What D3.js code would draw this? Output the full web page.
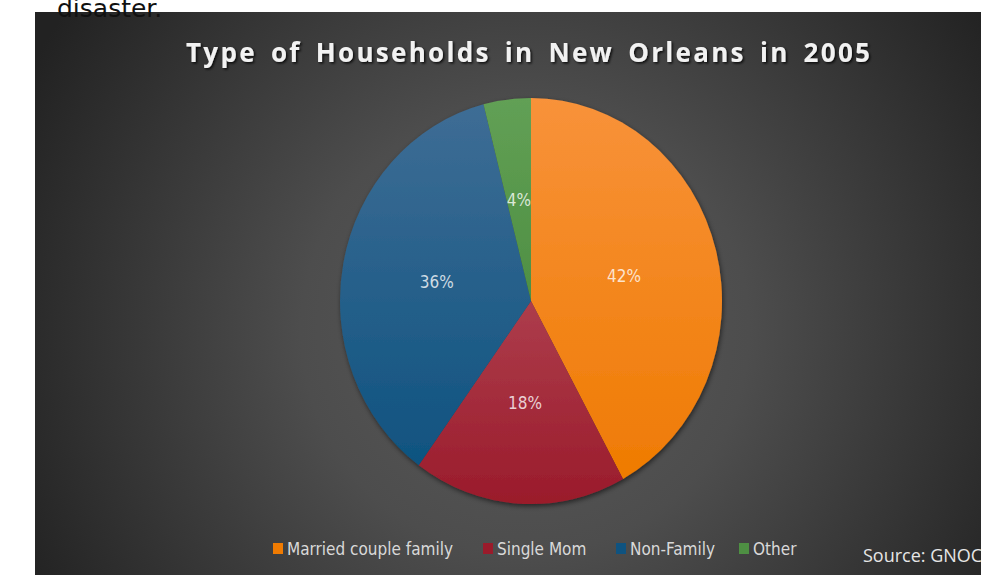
<!DOCTYPE html>
<html>
<head>
<meta charset="utf-8">
<script src="https://cdn.jsdelivr.net/npm/d3@7"></script>
<style>
  html, body { margin: 0; padding: 0; background: #ffffff; overflow: hidden; }
  svg { display: block; }
</style>
</head>
<body>
<svg id="chart" width="981" height="575"></svg>
<script>
// Household types, New Orleans 2005 (share of households, %)
const categories = ["Married couple family", "Single Mom", "Non-Family", "Other"];
const shares = [42, 18, 36, 4];
const labelTexts = ["42%", "18%", "36%", "4%"];
const titleText = "Type of Households in New Orleans in 2005";
const sourceText = "Source: GNOC";
const captionText = "disaster.";

// Slice fills: lighter at the top of each slice, darker towards the bottom
const colorTop = ["#f8923a", "#ad3d4c", "#3e6d95", "#62a055"];
const colorBottom = ["#ef7b02", "#9a1b2b", "#0f5380", "#4e8f43"];

const svg = d3.select("#chart");
const W = 981, H = 575;

const defs = svg.append("defs");

// Panel background: radial light in the middle, dark towards the edges
const bg = defs.append("radialGradient")
  .attr("id", "bgGrad")
  .attr("gradientUnits", "userSpaceOnUse")
  .attr("cx", 525).attr("cy", 330).attr("r", 560);
bg.append("stop").attr("offset", 0).attr("stop-color", "#5a5a5a");
bg.append("stop").attr("offset", 0.4).attr("stop-color", "#4d4d4d");
bg.append("stop").attr("offset", 1).attr("stop-color", "#222222");

categories.forEach((c, i) => {
  const g = defs.append("linearGradient")
    .attr("id", "slice" + i)
    .attr("x1", 0).attr("y1", 0).attr("x2", 0).attr("y2", 1);
  g.append("stop").attr("offset", 0).attr("stop-color", colorTop[i]);
  g.append("stop").attr("offset", 1).attr("stop-color", colorBottom[i]);
});

const shadow = defs.append("filter").attr("id", "titleShadow")
  .attr("x", "-5%").attr("y", "-30%").attr("width", "110%").attr("height", "160%");
shadow.append("feDropShadow")
  .attr("dx", 1.5).attr("dy", 1.5).attr("stdDeviation", 1.2)
  .attr("flood-color", "#000").attr("flood-opacity", 0.8);

const pieShadow = defs.append("filter").attr("id", "pieShadow")
  .attr("x", "-10%").attr("y", "-10%").attr("width", "120%").attr("height", "120%");
pieShadow.append("feDropShadow")
  .attr("dx", 1).attr("dy", 2).attr("stdDeviation", 2.5)
  .attr("flood-color", "#000").attr("flood-opacity", 0.55);

// Dark panel
svg.append("rect")
  .attr("x", 35).attr("y", 12)
  .attr("width", W - 35).attr("height", H - 12)
  .attr("fill", "url(#bgGrad)");

// Trailing caption text from the surrounding page
svg.append("text")
  .attr("x", 57).attr("y", 17)
  .attr("font-family", "DejaVu Sans, sans-serif")
  .attr("font-size", 25)
  .attr("fill", "#111")
  .text(captionText);

// Title
svg.append("text")
  .attr("x", 186).attr("y", 62)
  .attr("font-family", "Open Sans, sans-serif")
  .attr("font-weight", 700)
  .attr("font-size", 26)
  .attr("fill", "#f2f2f2")
  .attr("word-spacing", 5)
  .attr("textLength", 684)
  .attr("lengthAdjust", "spacing")
  .attr("filter", "url(#titleShadow)")
  .text(titleText);

// Pie (slightly taller than wide)
const cx = 531, cy = 301, r = 191, yStretch = 1.063;
const pie = d3.pie().sort(null).startAngle(0).endAngle(2 * Math.PI)(shares);
const arc = d3.arc().innerRadius(0).outerRadius(r);
const labelArc = d3.arc().innerRadius(96).outerRadius(96);

const pieG = svg.append("g")
  .attr("transform", `translate(${cx},${cy}) scale(1,${yStretch})`)
  .attr("filter", "url(#pieShadow)");

pieG.selectAll("path")
  .data(pie)
  .join("path")
  .attr("d", arc)
  .attr("fill", (d, i) => `url(#slice${i})`);

const labelG = svg.append("g");
labelG.selectAll("text")
  .data(pie)
  .join("text")
  .attr("x", d => cx + labelArc.centroid(d)[0])
  .attr("y", d => cy + labelArc.centroid(d)[1] * yStretch)
  .attr("dy", "0.35em")
  .attr("text-anchor", "middle")
  .attr("font-family", "Liberation Sans Narrow, DejaVu Sans Condensed, sans-serif")
  .attr("font-size", 17)
  .attr("fill", "#ffffff")
  .attr("fill-opacity", 0.78)
  .text((d, i) => labelTexts[i]);

// Legend
const legendX = [273, 483, 616, 739];
const legend = svg.append("g");
const items = legend.selectAll("g")
  .data(categories)
  .join("g")
  .attr("transform", (d, i) => `translate(${legendX[i]},0)`);
items.append("rect")
  .attr("x", 0).attr("y", 543)
  .attr("width", 10).attr("height", 11)
  .attr("fill", (d, i) => colorBottom[i]);
items.append("text")
  .attr("x", 14).attr("y", 555)
  .attr("font-family", "Liberation Sans Narrow, DejaVu Sans Condensed, sans-serif")
  .attr("font-size", 17)
  .attr("fill", "#d9d9d9")
  .text(d => d);

// Source note
svg.append("text")
  .attr("x", 863).attr("y", 562)
  .attr("font-family", "Open Sans, sans-serif")
  .attr("font-size", 18)
  .attr("fill", "#e6e6e6")
  .text(sourceText);
</script>
</body>
</html>
